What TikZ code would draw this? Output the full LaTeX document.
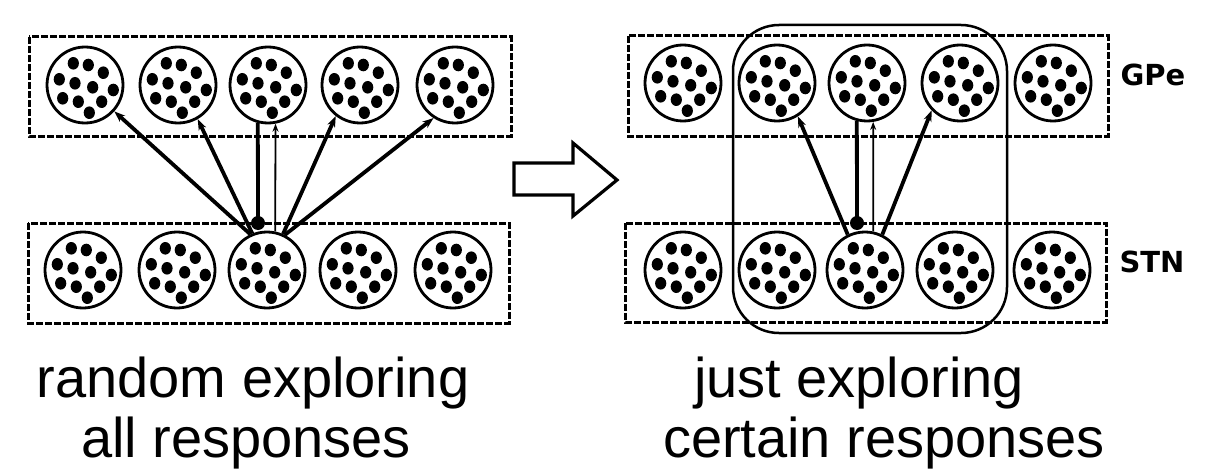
\documentclass[tikz,border=0pt]{standalone}
\usepackage{fontspec}
\setmainfont{Liberation Sans}
\newfontfamily\labelfont{DejaVu Sans}
\usetikzlibrary{arrows.meta}
\tikzset{
  cell/.style={circle, draw, line width=2.8pt, minimum size=76pt, inner sep=0pt},
  layer/.style={draw, line width=3pt, dash pattern=on 7pt off 2pt},
  fire/.style={line width=3.8pt, -{Stealth[length=11pt,width=8pt]}},
  feed/.style={line width=1.8pt, -{Stealth[length=8pt,width=6pt]}},
  back/.style={line width=3.8pt},
  knob/.style={circle, fill, inner sep=0pt, minimum size=14pt},
  focus/.style={draw, line width=2.5pt, rounded corners=46pt},
  bigarrow/.style={draw, line width=3.2pt, miter limit=10},
  caption/.style={anchor=base, inner sep=0pt, font=\fontsize{56}{60}\selectfont},
  area/.style={inner sep=0pt, font=\labelfont\bfseries\fontsize{29}{32}\selectfont},
}
\newcommand\celldots[1]{%
  \foreach \dx/\dy in {-11.7/-21.7, 3.3/-20, 18.3/-12.3, -25.7/-5.7, -10/-1.7,
                       7.7/2.3, 28.3/5, -22.3/13.3, -6.7/16.7, 16.7/16.7, 4.3/27.7}
    {\fill ([shift={(\dx,\dy)}]#1.center) ellipse [x radius=5.6, y radius=6.3];}%
}
\begin{document}
\begin{tikzpicture}[x=1pt, y=-1pt]
\useasboundingbox (0,0) rectangle (1209,476);

% ---------- left panel ----------
\draw[layer] (29,37) rectangle (511,136);
\draw[layer] (28,223) rectangle (509,323);
\foreach \n/\x in {1/85, 2/178, 3/268, 4/360, 5/455}
  {\node[cell] (lt\n) at (\x,85) {}; \celldots{lt\n}}
\foreach \n/\x in {1/83, 2/177, 3/267, 4/358, 5/453}
  {\node[cell] (lb\n) at (\x,270) {}; \celldots{lb\n}}
\node[knob] (lk) at (258,223) {};
\draw[fire] (lb3.115) -- (lt1.-42);
\draw[fire] (lb3.112) -- (lt2.-60);
\draw[fire] (lb3.66) -- (lt4.-128);
\draw[fire] (lb3.63) -- (lt5.-123);
\draw[back] (lt3.-105) -- (lk.center);
\draw[feed] (lb3.78) -- (lt3.-79);

% ---------- transition arrow ----------
\draw[bigarrow] (514,163) -- (573,163) -- (573,143) -- (617,180) -- (573,216)
  -- (573,195) -- (514,195) -- cycle;

% ---------- right panel ----------
\draw[layer] (628,36) rectangle (1108,136);
\draw[layer] (625,223) rectangle (1106,322);
\foreach \n/\x in {1/683, 2/777, 3/867, 4/960, 5/1053}
  {\node[cell] (rt\n) at (\x,83) {}; \celldots{rt\n}}
\foreach \n/\x in {1/683, 2/777, 3/865, 4/955, 5/1052}
  {\node[cell] (rb\n) at (\x,270) {}; \celldots{rb\n}}
\draw[focus] (733,25) rectangle (1007,333);
\node[knob] (rk) at (857,223) {};
\draw[fire] (rb3.116) -- (rt2.-58);
\draw[fire] (rb3.64) -- (rt4.-136);
\draw[back] (rt3.-105) -- (rk.center);
\draw[feed] (rb3.78) -- (rt3.-81);

\node[area] (gpe) at (1153,75) {GPe};
\node[area] (stn) at (1152,262) {STN};

% ---------- captions ----------
\node[caption] (c1) at (253,397) {random exploring};
\node[caption] (c2) at (246,457) {all responses};
\node[caption] (c3) at (859,397) {just exploring};
\node[caption] (c4) at (884,457) {certain responses};
\end{tikzpicture}
\end{document}
